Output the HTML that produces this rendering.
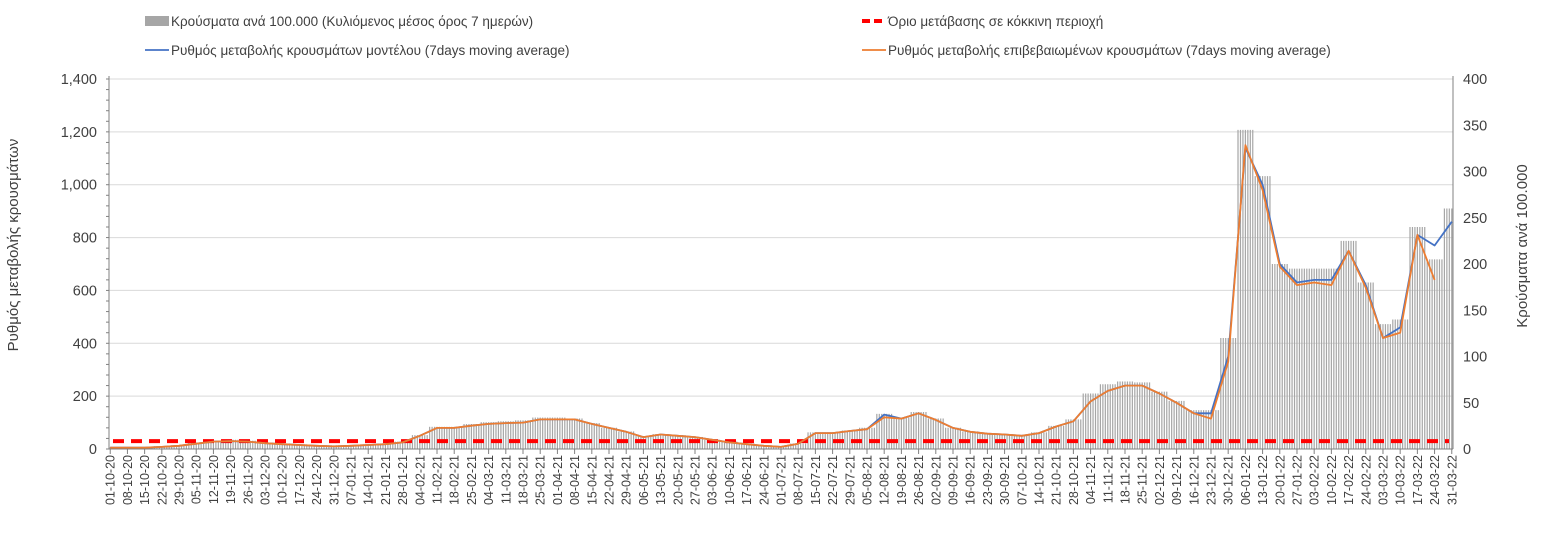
<!DOCTYPE html>
<html><head><meta charset="utf-8"><style>
body{margin:0;background:#fff;font-family:"Liberation Sans",sans-serif}
svg text{font-family:"Liberation Sans","DejaVu Sans",sans-serif}
</style></head><body>
<svg id="c" width="1547" height="533" xmlns="http://www.w3.org/2000/svg"></svg>
<script>
const weekLabels=["01-10-20","08-10-20","15-10-20","22-10-20","29-10-20","05-11-20","12-11-20","19-11-20","26-11-20","03-12-20","10-12-20","17-12-20","24-12-20","31-12-20","07-01-21","14-01-21","21-01-21","28-01-21","04-02-21","11-02-21","18-02-21","25-02-21","04-03-21","11-03-21","18-03-21","25-03-21","01-04-21","08-04-21","15-04-21","22-04-21","29-04-21","06-05-21","13-05-21","20-05-21","27-05-21","03-06-21","10-06-21","17-06-21","24-06-21","01-07-21","08-07-21","15-07-21","22-07-21","29-07-21","05-08-21","12-08-21","19-08-21","26-08-21","02-09-21","09-09-21","16-09-21","23-09-21","30-09-21","07-10-21","14-10-21","21-10-21","28-10-21","04-11-21","11-11-21","18-11-21","25-11-21","02-12-21","09-12-21","16-12-21","23-12-21","30-12-21","06-01-22","13-01-22","20-01-22","27-01-22","03-02-22","10-02-22","17-02-22","24-02-22","03-03-22","10-03-22","17-03-22","24-03-22","31-03-22"];
const modelRate=[5,5,5,8,12,20,28,30,28,22,18,15,12,10,12,15,18,25,50,80,80,88,95,98,100,112,112,112,95,80,65,45,55,50,45,35,25,18,12,8,20,60,60,68,75,130,115,135,110,80,65,58,55,50,60,85,105,180,220,240,240,210,175,135,135,350,1140,1000,700,630,640,640,750,620,420,460,810,770,860];
const confirmedRate=[5,5,5,8,12,20,28,30,28,22,18,15,12,10,12,15,18,25,50,80,80,88,95,98,100,112,112,112,95,80,65,45,55,50,45,35,25,18,12,8,20,60,60,68,75,120,115,135,110,80,65,58,55,50,60,85,105,180,220,240,240,210,175,135,115,330,1150,980,690,620,630,620,750,610,420,440,810,640];
const casesPer100k=[2,2,2,3,4,7,9,10,9,7,6,5,4,4,4,5,6,8,15,24,24,27,29,30,31,34,34,33,28,23,19,14,16,15,13,10,8,6,4,3,6,18,18,20,23,38,34,40,33,23,19,17,16,15,18,25,32,60,70,73,72,62,52,42,42,120,345,295,200,195,195,195,225,180,135,140,240,205,260];
const threshold=30;
const yTicksL=[0,200,400,600,800,1000,1200,1400];
const yTicksR=[0,50,100,150,200,250,300,350,400];

const svg=document.getElementById('c');const NS='http://www.w3.org/2000/svg';
const X0=109,X1=1453,Y0=449,Y1=79,ND=547;
const xs=d=>X0+(d+0.5)*(X1-X0)/ND;
const yL=v=>Y0-v*(Y0-Y1)/1400;
const yR=v=>Y0-v*(Y0-Y1)/400;
function el(t,a,p){const e=document.createElementNS(NS,t);for(const k in a)e.setAttribute(k,a[k]);(p||svg).appendChild(e);return e;}
yTicksL.forEach(v=>{if(v>0){const g=el('line',{x1:X0,x2:X1,y1:yL(v),y2:yL(v),stroke:'#d9d9d9','stroke-width':1});

}
const t=el('text',{x:97,y:yL(v)+5,'text-anchor':'end','font-size':14.5,fill:'#404040'});t.textContent=v.toLocaleString('en-US');

});
for(let v=0;v<=1400;v+=40){el('line',{x1:X0-3,x2:X0,y1:yL(v),y2:yL(v),stroke:'#808080'});}
yTicksR.forEach(v=>{const t=el('text',{x:1463,y:yR(v)+5,'font-size':14.5,fill:'#404040'});t.textContent=v;

});
const bars=el('g',{});


for(let d=0;d<ND;d++){const w=Math.min(78,Math.round(d/7));const v=casesPer100k[w];
const r=el('rect',{x:xs(d)-0.6,y:yR(v),width:1.2,height:Y0-yR(v),fill:'#a6a6a6'},bars);

}
const th=el('line',{x1:X0+4,x2:X1-4,y1:yL(threshold),y2:yL(threshold),stroke:'#ff0000','stroke-width':4,'stroke-dasharray':'11,7'});


function line(arr,col,name){const pts=arr.map((v,i)=>xs(Math.min(546,i*7)).toFixed(1)+','+yL(v).toFixed(1)).join(' ');
const p=el('polyline',{points:pts,fill:'none',stroke:col,'stroke-width':1.8,'stroke-linejoin':'round'});

}
line(modelRate,'#4472c4','model-rate-line');
line(confirmedRate,'#ed7d31','confirmed-rate-line');
el('line',{x1:X0,x2:X0,y1:Y1-3,y2:Y0,stroke:'#808080'});
el('line',{x1:X1,x2:X1,y1:Y1-3,y2:Y0,stroke:'#808080'});
el('line',{x1:X0,x2:X1,y1:Y0,y2:Y0,stroke:'#808080'});
weekLabels.forEach((s,i)=>{const x=xs(Math.min(546,i*7));el('line',{x1:x,x2:x,y1:Y0,y2:Y0+5,stroke:'#808080'});
const t=el('text',{transform:`translate(${x+4.5},${Y0+6}) rotate(-90)`,'text-anchor':'end','font-size':12.5,fill:'#404040'});t.textContent=s;

});
let t=el('text',{transform:'translate(18,245) rotate(-90)','text-anchor':'middle','font-size':15,fill:'#404040'});t.textContent='Ρυθμός μεταβολής κρουσμάτων';

t=el('text',{transform:'translate(1527,246) rotate(-90)','text-anchor':'middle','font-size':15,fill:'#404040'});t.textContent='Κρούσματα ανά 100.000';

function leg(x,y,kind,col,txt,name){const g=el('g',{});


if(kind==='bar')el('rect',{x:x,y:y-5,width:24,height:10,fill:'#a6a6a6'},g);
else if(kind==='dash')el('line',{x1:x,x2:x+24,y1:y,y2:y,stroke:col,'stroke-width':4,'stroke-dasharray':'8,4'},g);
else el('line',{x1:x,x2:x+24,y1:y,y2:y,stroke:col,'stroke-width':1.8},g);
const tt=el('text',{x:x+26,y:y+5,'font-size':13.5,fill:'#404040'},g);tt.textContent=txt;}
leg(145,21,'bar','','Κρούσματα ανά 100.000 (Κυλιόμενος μέσος όρος 7 ημερών)','legend-cases');
leg(862,21,'dash','#ff0000','Όριο μετάβασης σε κόκκινη περιοχή','legend-threshold');
leg(145,50,'line','#4472c4','Ρυθμός μεταβολής κρουσμάτων μοντέλου (7days moving average)','legend-model');
leg(862,50,'line','#ed7d31','Ρυθμός μεταβολής επιβεβαιωμένων κρουσμάτων (7days moving average)','legend-confirmed');
</script>
</body></html>
